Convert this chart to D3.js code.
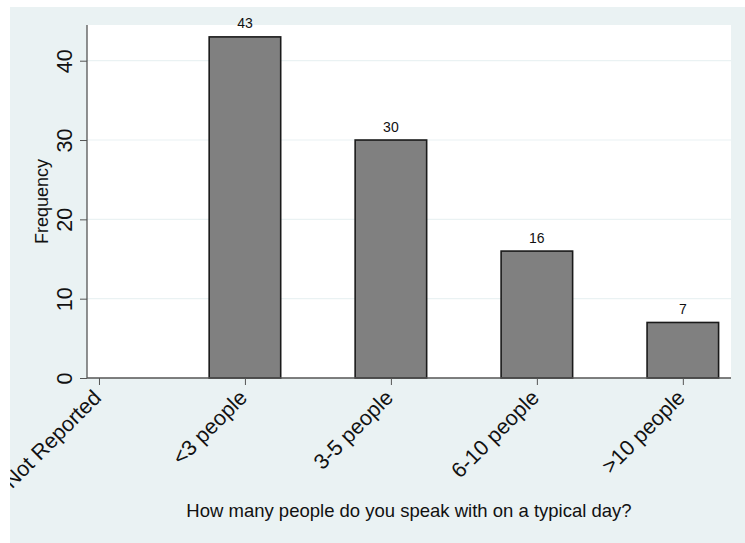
<!DOCTYPE html>
<html><head><meta charset="utf-8">
<script src="https://cdn.jsdelivr.net/npm/d3@7"></script>
<style>body{margin:0;background:#fff}svg{display:block;font-family:"Liberation Sans",Arial,Helvetica,sans-serif}</style>
</head><body><svg id="c" width="745" height="543"></svg>
<script>
const categories = ["Not Reported", "<3 people", "3-5 people", "6-10 people", ">10 people"];
const frequencies = [0, 43, 30, 16, 7];
const yTicks = [0, 10, 20, 30, 40];
const xTitle = "How many people do you speak with on a typical day?";
const yTitle = "Frequency";

const svg = d3.select("#c");
const W = 745, H = 543;
const plot = {l: 87, r: 731, t: 25, b: 378};

svg.append("defs").append("clipPath").attr("id", "gclip")
  .append("rect").attr("x", 10).attr("y", 7).attr("width", W - 10).attr("height", H - 7);
const root = svg.append("g").attr("clip-path", "url(#gclip)");

root.append("rect").attr("x", 10).attr("y", 7).attr("width", W - 10).attr("height", H - 7).attr("fill", "#eaf2f3");
root.append("rect").attr("x", plot.l).attr("y", plot.t).attr("width", plot.r - plot.l).attr("height", plot.b - plot.t).attr("fill", "#fff");

const x = d3.scaleLinear().domain([-0.082, 4.33]).range([plot.l, plot.r]);
const y = d3.scaleLinear().domain([0, 44.5]).range([plot.b, plot.t]);
const bw = 0.49;

// grid
root.append("g").selectAll("line").data(yTicks.filter(d => d > 0)).join("line")
  .attr("x1", plot.l).attr("x2", plot.r).attr("y1", d => y(d)).attr("y2", d => y(d))
  .attr("stroke", "#eaf2f3").attr("stroke-width", 1.2);

// bars
const data = categories.map((c, i) => ({c, i, v: frequencies[i]}));
root.append("g").selectAll("rect").data(data.filter(d => d.v > 0)).join("rect")
  .attr("x", d => x(d.i - bw / 2)).attr("width", d => x(d.i + bw / 2) - x(d.i - bw / 2))
  .attr("y", d => y(d.v)).attr("height", d => y(0) - y(d.v))
  .attr("fill", "#808080").attr("stroke", "#1a1a1a").attr("stroke-width", 1.6);

root.append("g").selectAll("text").data(data.filter(d => d.v > 0)).join("text")
  .attr("x", d => x(d.i)).attr("y", d => y(d.v) - 8.4)
  .attr("text-anchor", "middle").attr("font-size", 14).attr("fill", "#111")
  .text(d => d.v);

// y axis
const ya = d3.axisLeft(y).tickValues(yTicks).tickSize(7).tickPadding(4);
const gy = root.append("g").attr("transform", `translate(${plot.l},0)`).call(ya);
gy.select(".domain").attr("d", `M0,${plot.b}V${plot.t}`).attr("stroke", "#555").attr("stroke-width", 1.3);
gy.selectAll(".tick line").attr("stroke", "#555");
gy.selectAll(".tick text")
  .attr("font-size", 21.5).attr("fill", "#111").attr("font-family", "Liberation Sans, Arial, sans-serif")
  .attr("text-anchor", "middle").attr("dy", 0)
  .attr("transform", "translate(-15,0) rotate(-90)").attr("x", 0).attr("y", 0);

// x axis
const xa = d3.axisBottom(x).tickValues(d3.range(categories.length)).tickFormat(i => categories[i]).tickSize(7).tickPadding(4);
const gx = root.append("g").attr("transform", `translate(0,${plot.b})`).call(xa);
gx.select(".domain").attr("d", `M${plot.l},0H${plot.r}`).attr("stroke", "#555").attr("stroke-width", 1.3);
gx.selectAll(".tick line").attr("stroke", "#555");
gx.selectAll(".tick text")
  .attr("font-size", 21.5).attr("fill", "#111").attr("font-family", "Liberation Sans, Arial, sans-serif")
  .attr("text-anchor", "end").attr("x", 0).attr("y", 0).attr("dy", 0)
  .attr("transform", "translate(3,21) rotate(-45)");

// titles
root.append("text").attr("x", (plot.l + plot.r) / 2).attr("y", 517).attr("text-anchor", "middle")
  .attr("font-size", 18.5).attr("fill", "#111").text(xTitle);
root.append("text").attr("transform", `translate(48,${(plot.t + plot.b) / 2}) rotate(-90)`).attr("text-anchor", "middle")
  .attr("font-size", 18).attr("fill", "#111").text(yTitle);
</script></body></html>
